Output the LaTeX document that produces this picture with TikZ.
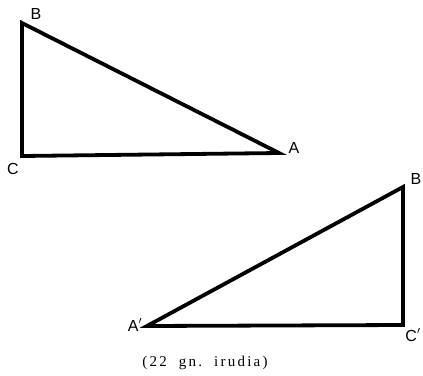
\documentclass[tikz,border=0pt]{standalone}
\usepackage{fontspec}
\setmainfont{Liberation Serif}
\newfontfamily\lblfont{Liberation Sans}
\newfontfamily\capfont[LetterSpace=15]{Liberation Serif}
\begin{document}
\begin{tikzpicture}[x=1pt,y=-1pt,
  tri/.style={line width=3.8pt,line join=miter,line cap=round},
  lbl/.style={font=\lblfont\fontsize{16}{16}\selectfont,inner sep=0pt}]
\useasboundingbox (0,0) rectangle (423,375);
\coordinate (B) at (22,23);
\coordinate (C) at (22,156);
\coordinate (A) at (279,153);
\draw[tri] (B) -- (C) -- (A) -- cycle;
\node[lbl] (lB) at (36,14) {B};
\node[lbl] (lC) at (13,169) {C};
\node[lbl] (lA) at (294,148) {A};
\coordinate (B2) at (403,187);
\coordinate (C2) at (403,325);
\coordinate (A2) at (147,326);
\draw[tri] (B2) -- (C2) -- (A2) -- cycle;
\node[lbl] (lB2) at (416,179) {B};
\node[lbl] (lA2) at (135,325) {A$'$};
\node[lbl] (lC2) at (413,335) {C$'$};
\node[inner sep=0pt,font=\capfont\fontsize{15}{15}\selectfont] (cap) at (205,363) {(22\ \ gn.\ \ irudia)};
\end{tikzpicture}
\end{document}
